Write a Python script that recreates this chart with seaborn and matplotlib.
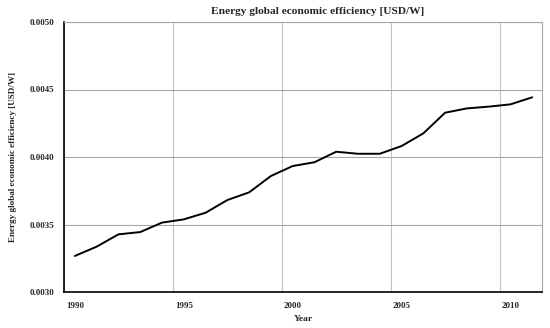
import matplotlib
matplotlib.use("Agg")
import matplotlib.pyplot as plt
import seaborn as sns
import pandas as pd
from matplotlib.ticker import FixedLocator, FormatStrFormatter

years = list(range(1990, 2012))
efficiency = [0.003267, 0.003336, 0.003427, 0.003444, 0.003514, 0.003538,
              0.003587, 0.003681, 0.003738, 0.003859, 0.003933, 0.003961,
              0.004039, 0.004024, 0.004024, 0.004081, 0.004175, 0.004328,
              0.004360, 0.004373, 0.004390, 0.004442]
title = "Energy global economic efficiency [USD/W]"
xlabel = "Year"
ylabel = "Energy global economic efficiency [USD/W]"
xtick_years = [1990, 1995, 2000, 2005, 2010]
yticks = [0.0030, 0.0035, 0.0040, 0.0045, 0.0050]

df = pd.DataFrame({"Year": years, "Efficiency": efficiency})

sns.set_style("white")
plt.rcParams['font.family'] = ['Liberation Serif', 'DejaVu Serif']

fig = plt.figure(figsize=(5.5, 3.28), dpi=100)
ax = fig.add_axes([64/550, 36/328, (542-64)/550, (292-22)/328])

sns.lineplot(data=df, x="Year", y="Efficiency", ax=ax, color="black", linewidth=1.4)

ax.set_xlim(1989.5, 2011.45)
ax.set_ylim(0.0030, 0.0050)
ax.set_yticks(yticks)
ax.yaxis.set_major_formatter(FormatStrFormatter('%.4f'))
ax.set_xticks(xtick_years)
ax.set_xticklabels([str(y) for y in xtick_years])
ax.xaxis.set_minor_locator(FixedLocator([y - 0.5 for y in xtick_years]))

ax.grid(False)
ax.yaxis.grid(True, which='major', color='#a8a8a8', linewidth=0.8)
ax.xaxis.grid(True, which='minor', color='#c4c4c4', linewidth=0.8)
ax.tick_params(axis='both', which='both', length=0)
ax.tick_params(axis='x', pad=7)
ax.tick_params(axis='y', pad=7)

for lab in ax.get_xticklabels() + ax.get_yticklabels():
    lab.set_fontsize(6.4)
    lab.set_fontweight('bold')

for s in ['left', 'bottom']:
    ax.spines[s].set_color('black')
    ax.spines[s].set_linewidth(1.2)
for s in ['top', 'right']:
    ax.spines[s].set_color('#a8a8a8')
    ax.spines[s].set_linewidth(0.8)

ax.set_title(title, fontsize=8.2, fontweight='bold', pad=6, x=0.531)
ax.set_xlabel(xlabel, fontsize=6.8, fontweight='bold', labelpad=4)
ax.set_ylabel(ylabel, fontsize=6.6, fontweight='bold', labelpad=9)

fig.savefig("out.png", dpi=100, facecolor='white')
